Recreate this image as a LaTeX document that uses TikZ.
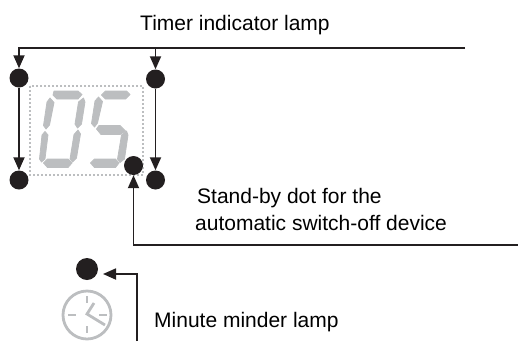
\documentclass[tikz,border=0pt]{standalone}
\usepackage{fontspec}
\setmainfont{Liberation Sans}
\usetikzlibrary{arrows.meta}
\definecolor{inkblack}{HTML}{231F20}
\definecolor{seggray}{HTML}{BCBEC0}
\begin{document}
\begin{tikzpicture}
[x=1pt, y=-1pt, font=\fontsize{21}{24}\selectfont, text=black]
\tikzstyle{lamp}=[circle, fill=inkblack, inner sep=0mm, minimum size=19pt]
\tikzstyle{pointer}=[draw=inkblack, line width=1.8pt, -{Triangle[width=11pt,length=13pt]}]
\tikzstyle{caption}=[anchor=base west, inner sep=0mm]
\tikzstyle{seg}=[fill=seggray, draw=seggray, line width=0.8pt, line join=round]
\tikzstyle{dial}=[draw=seggray, line width=2.8pt]
\useasboundingbox (0,0) rectangle (518,341);

% display frame and digits
\draw[seggray, line width=2pt, dash pattern=on 2pt off 2pt] (30,86) rectangle (143,175);
\fill[seg] (54,91)--(78,91)--(82,94.5)--(78,99)--(57,99)--(53,95)--cycle;
\fill[seg] (50,98)--(54,102.5)--(49.5,125)--(46,129)--(43.5,125.5)--(47,102)--cycle;
\fill[seg] (83.5,98)--(85,102)--(81.5,124)--(77.5,128)--(75,124)--(78.5,102)--cycle;
\fill[seg] (45,131.5)--(48,135)--(45,159)--(41.5,162)--(39.5,159)--(42,135)--cycle;
\fill[seg] (78,130)--(80.5,134)--(76.5,158)--(72.5,162)--(70,159)--(74,134.5)--cycle;
\fill[seg] (47.5,159)--(68,159)--(72,163)--(68,167.5)--(47.5,167.5)--(43.5,163)--cycle;
\fill[seg] (105.5,91)--(126.5,91)--(130,94.5)--(125.5,99)--(105.5,99)--(101.5,95)--cycle;
\fill[seg] (98.5,97)--(102.5,101.5)--(97.5,123)--(94.5,127)--(91.5,123.5)--(95,101)--cycle;
\fill[seg] (99,125.5)--(120,125.5)--(125.5,131)--(120,134.5)--(101,134.5)--(96.5,129)--cycle;
\fill[seg] (126.5,131)--(128,135)--(124.5,159)--(120,162.5)--(117.5,159)--(121.5,135)--cycle;
\fill[seg] (94.5,159)--(115.5,159)--(119,163)--(115.5,167.5)--(94.5,167.5)--(90.5,163)--cycle;

\node[lamp]	(L0)	at (19,78)	{};
\node[lamp]	(L1)	at (155.5,79)	{};
\node[lamp]	(L2)	at (19,180)	{};
\node[lamp]	(L3)	at (155.5,180)	{};
\node[lamp]	(S0)	at (133.5,165.5)	{};
\node[lamp, minimum size=22pt]	(M0)	at (87,269)	{};

\coordinate (Tend)	at (465,48);
\coordinate (Send)	at (518,245);
\coordinate (Mend)	at (137,341);
\coordinate (Mtip)	at (103,274);

\draw[pointer]	(Tend) -| (L0);
\draw[pointer]	(L1 |- Tend) -- (L1);
\draw[pointer]	(L0) -- (L2);
\draw[pointer]	(L1) -- (L3);
\draw[pointer]	(Send) -| (S0);
\draw[pointer]	(Mend) |- (Mtip);

\node[caption]	(Tlabel)	at (140,30)	{Timer indicator lamp};
\node[caption]	(Slabel)	at (197,203)	{Stand-by dot for the};
\node[caption]	(Alabel)	at (195,230)	{automatic switch-off device};
\node[caption]	(Mlabel)	at (154,327)	{Minute minder lamp};

% clock symbol
\node[dial, circle, inner sep=0mm, minimum size=48pt]	(C0)	at (87,315)	{};
\draw[dial] (87,296)--(87,303) (87,326)--(87,333) (68,315)--(76,315) (99,315)--(107,315);
\draw[dial] (94,303)--(87,314)--(105,325);
\end{tikzpicture}
\end{document}
